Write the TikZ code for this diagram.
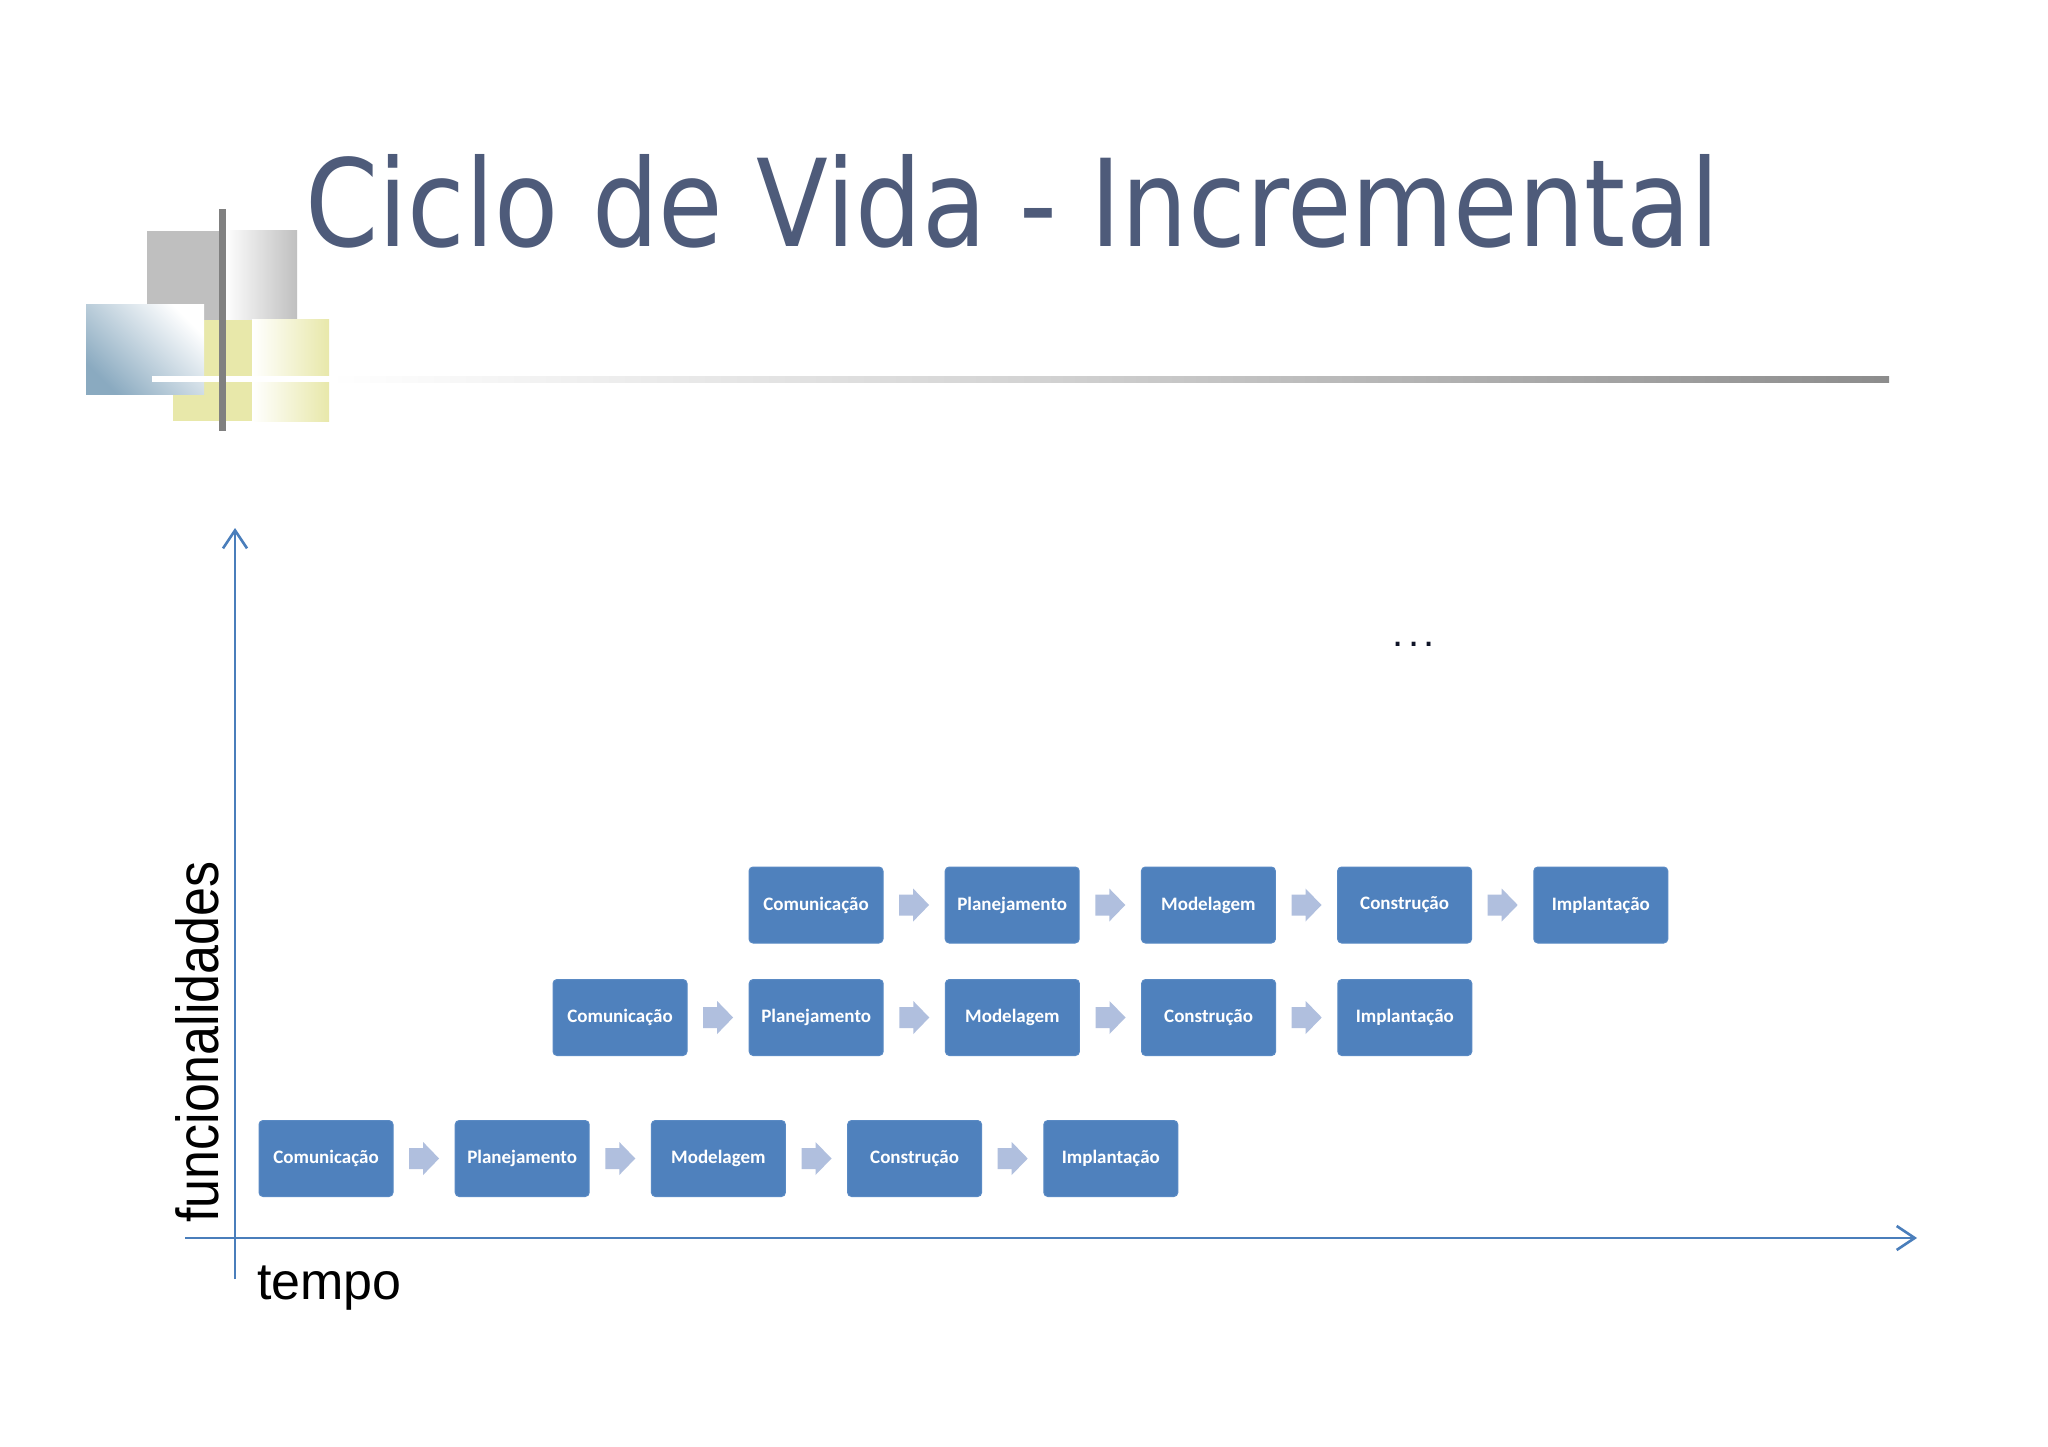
\documentclass[tikz,border=0pt]{standalone}
\usepackage{fontspec}
\setmainfont{Liberation Sans}
\newfontfamily\titlefont{DejaVu Sans}
\newfontfamily\boxfont{Carlito}
\usetikzlibrary{arrows.meta,calc}
\definecolor{titlecol}{RGB}{78,91,122}
\definecolor{axiscol}{RGB}{74,126,187}
\definecolor{boxfill}{RGB}{79,129,189}
\definecolor{boxline}{RGB}{90,138,196}
\definecolor{arrowfill}{RGB}{176,191,222}
\definecolor{decogray}{RGB}{191,191,191}
\definecolor{decobar}{RGB}{128,128,128}
\definecolor{decoyellow}{RGB}{232,232,170}
\definecolor{decoblue}{RGB}{138,170,192}
\definecolor{dotcol}{RGB}{15,20,40}
\tikzset{
  procbox/.style={rectangle, rounded corners=4pt, fill=boxfill, draw=boxline, line width=1pt,
    minimum width=134pt, minimum height=76pt, inner sep=0pt, text=white,
    font=\boxfont\bfseries\fontsize{19}{19}\selectfont},
  axisline/.style={draw=axiscol, line width=2.6pt, -{Straight Barb[length=18pt,width=24pt,line width=2.6pt]}},
  blockarrow/.style={fill=arrowfill}
}
\newcommand{\blkarrow}[2]{%
  \fill[blockarrow] ($(#1.east)!0.5!(#2.west)$) ++(-15,-10.5) -- ++(14,0) -- ++(0,-6)
    -- ++(16,16.5) -- ++(-16,16.5) -- ++(0,-6) -- ++(-14,0) -- cycle;}
\begin{document}
\begin{tikzpicture}[x=1pt,y=-1pt]
\useasboundingbox (0,0) rectangle (2048,1447);
\fill[white] (0,0) rectangle (2048,1447);
% decoration
\fill[decogray] (147,231) rectangle (297,320);
\shade[left color=white, right color=decogray] (224,231) rectangle (297,320);
\fill[decoyellow] (173,320) rectangle (329,421);
\shade[left color=white, right color=decoyellow] (252,320) rectangle (329,421);
\shade[top color=white, bottom color=decoblue, shading angle=-45] (86,305) rectangle (204,394);
\fill[white] (152,376) rectangle (331,382);
\shade[left color=white, right color=gray!35] (330,376) rectangle (1041,382);
\shade[left color=gray!35, right color=gray!90] (1040,376) rectangle (1889,382);
\fill[decobar] (219,209) rectangle (226,431);
% title
\node[anchor=base west, inner sep=0pt, text=titlecol] (title) at (305,247)
  {\resizebox{1413pt}{92pt}{\titlefont Ciclo de Vida - Incremental}};
% axes
\coordinate (yb) at (235,1279);
\coordinate (yt) at (235,528);
\coordinate (xl) at (185,1238);
\coordinate (xr) at (1917,1238);
\draw[axisline] (yb) -- (yt);
\draw[axisline] (xl) -- (xr);
\node[rotate=90, anchor=base west, inner sep=0pt] (ylab) at (218,1223)
  {\scalebox{1}[1.14]{\fontsize{52}{52}\selectfont funcionalidades}};
\node[anchor=base west, inner sep=0pt] (xlab) at (257,1299)
  {\fontsize{52}{52}\selectfont tempo};
\node[anchor=base west, inner sep=0pt, text=dotcol] (dots) at (1392.5,646.5)
  {\fontsize{40}{40}\selectfont .\kern4.4pt.\kern4.4pt.};
% boxes
\foreach \lab [count=\i from 0] in {Comunicação,Planejamento,Modelagem,Construção,Implantação}{
  \node[procbox] (a\i) at (259+67+196.2*\i,1158.5) {\raisebox{-2pt}{\lab}};
  \node[procbox] (b\i) at (553+67+196.2*\i,1017.5) {\raisebox{-2pt}{\lab}};
  \node[procbox] (c\i) at (749+67+196.2*\i,905) {\raisebox{-2pt}{\lab}};
}
\foreach \r in {a,b,c}{
  \foreach \i [evaluate=\i as \j using int(\i+1)] in {0,1,2,3}{
    \blkarrow{\r\i}{\r\j}
  }
}
\end{tikzpicture}
\end{document}
